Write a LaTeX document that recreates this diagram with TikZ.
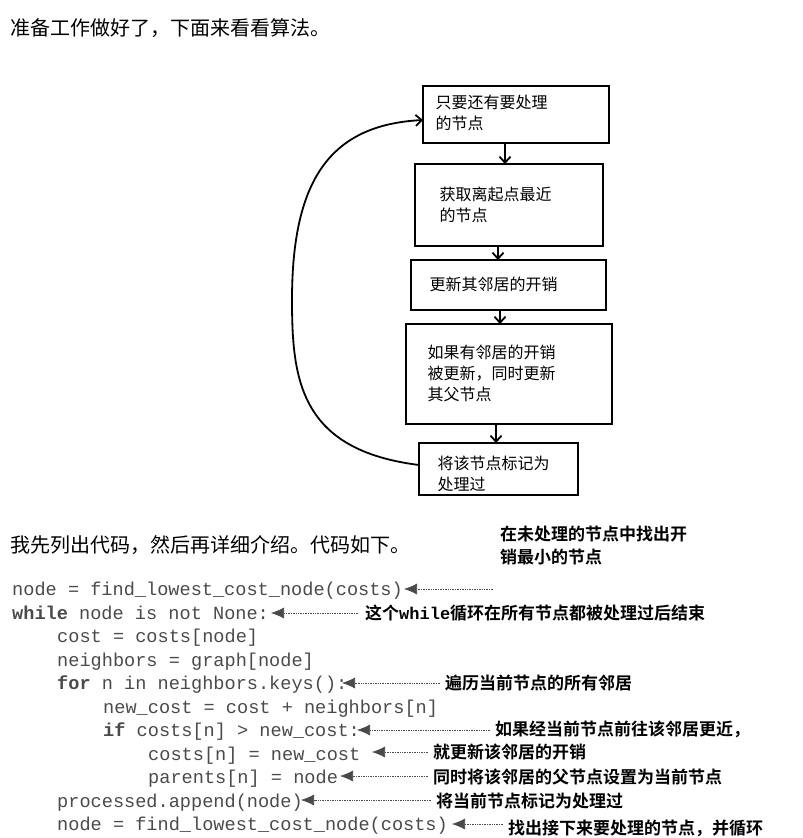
\documentclass[tikz,border=0pt]{standalone}
\usepackage{fontspec}
\setmonofont{Liberation Mono}
\newfontfamily\cjk{Noto Sans CJK SC}
\newfontfamily\cjkb{Noto Sans CJK SC Bold}
\usetikzlibrary{arrows.meta}
\definecolor{codegray}{HTML}{4A4A4A}
\tikzset{
  fbox/.style={draw,line width=1.6pt,inner sep=0pt},
  ftext/.style={anchor=north west,align=left,font=\cjk\fontsize{16}{21}\selectfont},
  farrow/.style={line width=1.8pt,-{Straight Barb[length=6pt,width=11pt]}},
  code/.style={anchor=base west,inner sep=0pt,text=codegray,font=\ttfamily\fontsize{18.6}{20}\selectfont},
  note/.style={anchor=base west,inner sep=0pt,font=\cjkb\fontsize{17}{23}\selectfont,align=left},
  pointer/.style={densely dotted,line width=0.7pt,color=codegray,-{Latex[length=13pt,width=11pt]}},
}
\begin{document}
\begin{tikzpicture}[x=1pt,y=-1pt]
\useasboundingbox (0,0) rectangle (803,838);
\node[anchor=base west,inner sep=0pt,font=\cjk\fontsize{20}{24}\selectfont] (hdr) at (10,35) {准备工作做好了，下面来看看算法。};
% flowchart
\draw[fbox] (423,86) rectangle (609,143); \coordinate (b1t) at (505,143); \coordinate (b1l) at (423,120);
\node[ftext] (t1) at (432,92) {只要还有要处理\\的节点};
\draw[fbox] (415,164) rectangle (603,246); \coordinate (b2t) at (505,164); \coordinate (b2b) at (498,246);
\node[ftext] (t2) at (436,183) {获取离起点最近\\的节点};
\draw[fbox] (411,260) rectangle (606,310); \coordinate (b3t) at (498,260); \coordinate (b3b) at (500,310);
\node[ftext] (t3) at (426,273) {更新其邻居的开销};
\draw[fbox] (406,324) rectangle (612,424); \coordinate (b4t) at (500,324); \coordinate (b4b) at (496,424);
\node[ftext] (t4) at (424,341) {如果有邻居的开销\\被更新，同时更新\\其父节点};
\draw[fbox] (419,443) rectangle (578,495); \coordinate (b5t) at (496,443); \coordinate (b5l) at (419,465);
\node[ftext] (t5) at (434,452) {将该节点标记为\\处理过};
\draw[farrow] (b1t) -- (b2t);
\draw[farrow] (b2b) -- (b3t);
\draw[farrow] (b3b) -- (b4t);
\draw[farrow] (b4b) -- (b5t);
\draw[farrow] (b5l) .. controls (300,450) and (292,380) .. (292,300) .. controls (292,180) and (330,125) .. (b1l);
% text
\node[anchor=base west,inner sep=0pt,font=\cjk\fontsize{20}{24}\selectfont] (hdr2) at (10,552) {我先列出代码，然后再详细介绍。代码如下。};
% code
\node[code] (c1) at (12,595) {node = find\_lowest\_cost\_node(costs)};
\node[code] (c2) at (12,619) {\textbf{while} node is not None:};
\node[code] (c3) at (57,642) {cost = costs[node]};
\node[code] (c4) at (57,666) {neighbors = graph[node]};
\node[code] (c5) at (57,689) {\textbf{for} n in neighbors.keys():};
\node[code] (c6) at (103,713) {new\_cost = cost + neighbors[n]};
\node[code] (c7) at (103,736) {\textbf{if} costs[n] > new\_cost:};
\node[code] (c8) at (148,760) {costs[n] = new\_cost};
\node[code] (c9) at (148,783) {parents[n] = node};
\node[code] (c10) at (57,807) {processed.append(node)};
\node[code] (c11) at (57,830) {node = find\_lowest\_cost\_node(costs)};
% notes
\node[note] (n1) at (500,563) {在未处理的节点中找出开\\销最小的节点};
\node[note] (n2) at (365,619) {这个\textbf{\ttfamily while}循环在所有节点都被处理过后结束};
\node[note] (n3) at (445,689) {遍历当前节点的所有邻居};
\node[note] (n4) at (495,735) {如果经当前节点前往该邻居更近，};
\node[note] (n5) at (433,758) {就更新该邻居的开销};
\node[note] (n6) at (433,783) {同时将该邻居的父节点设置为当前节点};
\node[note] (n7) at (436,807) {将当前节点标记为处理过};
\node[note] (n8) at (508,834) {找出接下来要处理的节点，并循环};
\coordinate (p1) at (493,589); \coordinate (q1) at (404,589);
\coordinate (p2) at (358,613); \coordinate (q2) at (271,613);
\coordinate (p3) at (440,683); \coordinate (q3) at (342,683);
\coordinate (p4) at (490,730); \coordinate (q4) at (357,730);
\coordinate (p5) at (428,752); \coordinate (q5) at (372,752);
\coordinate (p6) at (428,776); \coordinate (q6) at (340,776);
\coordinate (p7) at (431,800); \coordinate (q7) at (301,800);
\coordinate (p8) at (503,824); \coordinate (q8) at (452,824);
\foreach \i in {1,...,8} \draw[pointer] (p\i) -- (q\i);
\end{tikzpicture}
\end{document}
